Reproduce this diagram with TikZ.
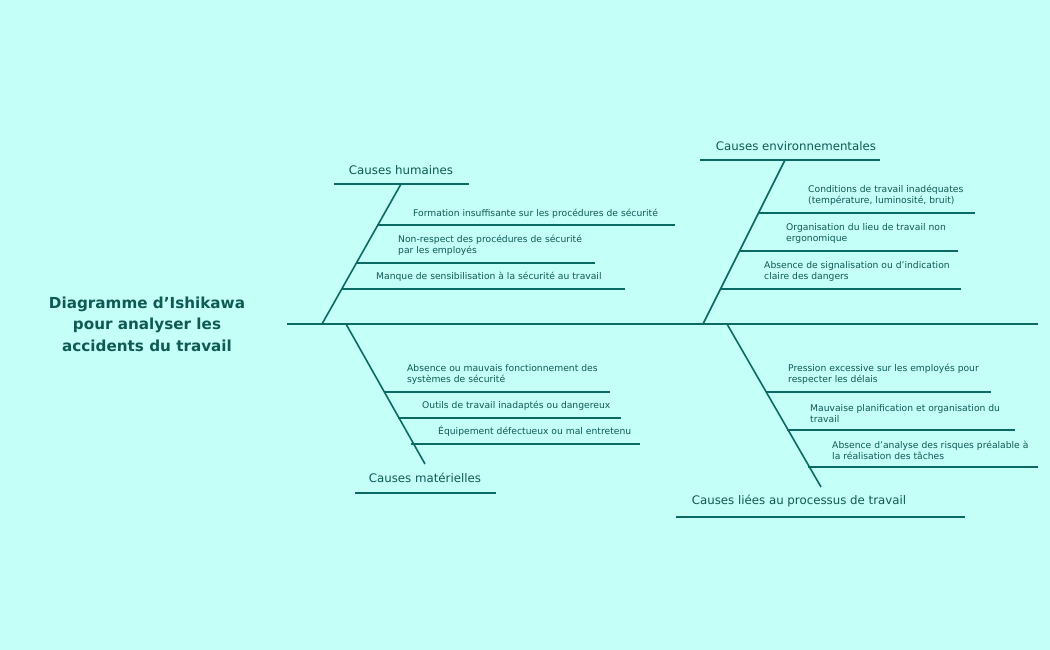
\documentclass[tikz,border=0pt]{standalone}
\usepackage{fontspec}
\setmainfont{DejaVu Sans}
\definecolor{bg}{HTML}{C4FFF8}
\definecolor{ln}{HTML}{0B6B63}
\definecolor{tx}{HTML}{0E5A54}
\begin{document}
\begin{tikzpicture}[x=1pt,y=-1pt,
  bone/.style={draw=ln,line width=1.6pt},
  twig/.style={draw=ln,line width=1.2pt},
  sub/.style={anchor=south west,inner sep=0pt,text=tx,font=\fontsize{9.2}{11}\selectfont,align=left},
  hdr/.style={anchor=center,inner sep=0pt,text=tx,font=\fontsize{11.8}{13}\selectfont}]
\fill[bg] (0,0) rectangle (1050,650);
\useasboundingbox (0,0) rectangle (1050,650);
\node[inner sep=0pt,text=tx,align=center,font=\bfseries\fontsize{15.2}{21.5}\selectfont] (title) at (147,324) {Diagramme d'Ishikawa\\pour analyser les\\accidents du travail};
\coordinate (s0) at (287,324); \coordinate (s1) at (1038,324);
\draw[bone] (s0) -- (s1);
% humaines
\coordinate (h0) at (322,324); \coordinate (h1) at (401,184);
\draw[bone] (h0) -- (h1);
\coordinate (hl) at (334,184); \coordinate (hr) at (469,184);
\draw[twig] (hl) -- (hr);
\node[hdr] (H) at (401,170) {Causes humaines};
\coordinate (a1) at (378,225); \coordinate (a1e) at (675,225); \draw[twig] (a1) -- (a1e);
\node[sub] (ta1) at (413,219) {Formation insuffisante sur les procédures de sécurité};
\coordinate (a2) at (356,263); \coordinate (a2e) at (595,263); \draw[twig] (a2) -- (a2e);
\node[sub] (ta2) at (398,256) {Non-respect des procédures de sécurité\\par les employés};
\coordinate (a3) at (342,289); \coordinate (a3e) at (625,289); \draw[twig] (a3) -- (a3e);
\node[sub] (ta3) at (376,282) {Manque de sensibilisation à la sécurité au travail};
% environnementales
\coordinate (e0) at (703,324); \coordinate (e1) at (785,160);
\draw[bone] (e0) -- (e1);
\coordinate (el) at (700,160); \coordinate (er) at (880,160);
\draw[twig] (el) -- (er);
\node[hdr] (E) at (796,146) {Causes environnementales};
\coordinate (b1) at (758,213); \coordinate (b1e) at (975,213); \draw[twig] (b1) -- (b1e);
\node[sub] (tb1) at (808,206) {Conditions de travail inadéquates\\(température, luminosité, bruit)};
\coordinate (b2) at (739,251); \coordinate (b2e) at (958,251); \draw[twig] (b2) -- (b2e);
\node[sub] (tb2) at (786,244) {Organisation du lieu de travail non\\ergonomique};
\coordinate (b3) at (720,289); \coordinate (b3e) at (961,289); \draw[twig] (b3) -- (b3e);
\node[sub] (tb3) at (764,282) {Absence de signalisation ou d'indication\\claire des dangers};
% materielles
\coordinate (m0) at (346,324); \coordinate (m1) at (425,464);
\draw[bone] (m0) -- (m1);
\coordinate (ml) at (355,493); \coordinate (mr) at (496,493);
\draw[twig] (ml) -- (mr);
\node[hdr] (M) at (425,478) {Causes matérielles};
\coordinate (c1) at (384,392); \coordinate (c1e) at (610,392); \draw[twig] (c1) -- (c1e);
\node[sub] (tc1) at (407,385) {Absence ou mauvais fonctionnement des\\systèmes de sécurité};
\coordinate (c2) at (398,418); \coordinate (c2e) at (621,418); \draw[twig] (c2) -- (c2e);
\node[sub] (tc2) at (422,411) {Outils de travail inadaptés ou dangereux};
\coordinate (c3) at (411,444); \coordinate (c3e) at (640,444); \draw[twig] (c3) -- (c3e);
\node[sub] (tc3) at (438,437) {Équipement défectueux ou mal entretenu};
% processus
\coordinate (p0) at (727,324); \coordinate (p1) at (821,487);
\draw[bone] (p0) -- (p1);
\coordinate (pl) at (676,517); \coordinate (pr) at (965,517);
\draw[twig] (pl) -- (pr);
\node[hdr] (P) at (799,501) {Causes liées au processus de travail};
\coordinate (d1) at (766,392); \coordinate (d1e) at (991,392); \draw[twig] (d1) -- (d1e);
\node[sub] (td1) at (788,385) {Pression excessive sur les employés pour\\respecter les délais};
\coordinate (d2) at (787,430); \coordinate (d2e) at (1015,430); \draw[twig] (d2) -- (d2e);
\node[sub] (td2) at (810,423) {Mauvaise planification et organisation du\\travail};
\coordinate (d3) at (808,467); \coordinate (d3e) at (1038,467); \draw[twig] (d3) -- (d3e);
\node[sub] (td3) at (832,460) {Absence d'analyse des risques préalable à\\la réalisation des tâches};
\end{tikzpicture}
\end{document}
